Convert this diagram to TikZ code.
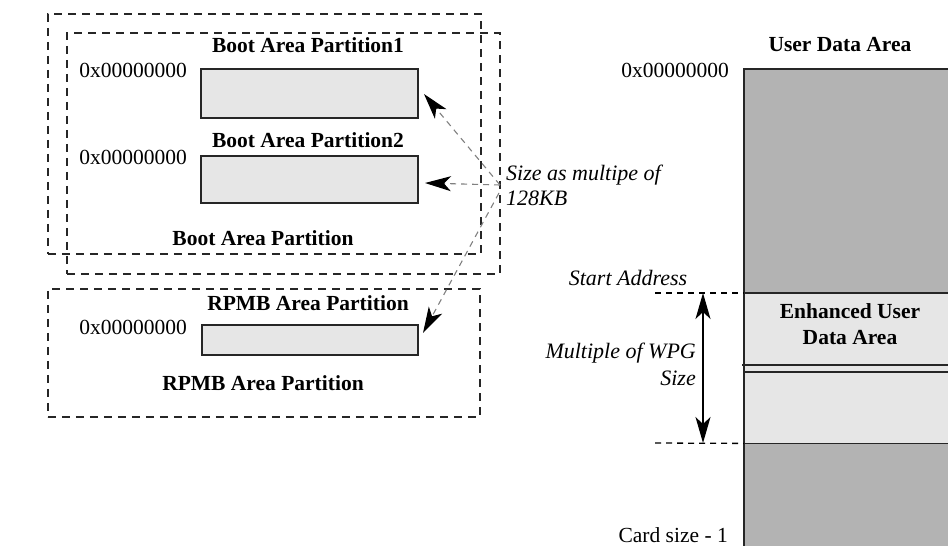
\documentclass[tikz,border=0pt]{standalone}
\usepackage{fontspec}
\setmainfont{Liberation Serif}
\usetikzlibrary{arrows.meta}
\definecolor{darkg}{HTML}{B3B3B3}
\definecolor{lightg}{HTML}{E6E6E6}
\begin{document}
\begin{tikzpicture}[x=1pt,y=-1pt,
  txt/.style={font=\fontsize{21.5}{24}\selectfont, inner sep=0pt},
  bt/.style={txt, font=\fontsize{21.5}{26}\selectfont\bfseries},
  it/.style={txt, font=\fontsize{22}{25}\selectfont\itshape},
  dbox/.style={draw=black!85, line width=1.6pt, dash pattern=on 8pt off 6pt, anchor=north west, inner sep=0pt},
  pbox/.style={draw=black!85, fill=lightg, line width=1.5pt, anchor=north west, inner sep=0pt},
  szarrow/.style={draw=black!50, line width=1.1pt, dash pattern=on 6pt off 5pt,
    -{Stealth[length=26pt, width=15pt, inset=7pt, black]}},
  wpgarrow/.style={draw=black, line width=1.4pt,
    {Stealth[length=26pt, width=15pt, inset=7pt]}-{Stealth[length=26pt, width=15pt, inset=7pt]}},
  guide/.style={draw=black, line width=1.3pt, dash pattern=on 6pt off 5pt}]
\useasboundingbox (0,0) rectangle (948,546);

% boot area partition boxes
\node[dbox, minimum width=433, minimum height=240] (bootA) at (47,13) {};
\node[dbox, minimum width=433, minimum height=241] (bootB) at (66,32) {};
\node[bt] (bap1) at (308,45) {Boot Area Partition1};
\node[txt] (a1) at (133,70) {0x00000000};
\node[pbox, minimum width=217, minimum height=49] (p1) at (200,68) {};
\node[bt] (bap2) at (308,140) {Boot Area Partition2};
\node[txt] (a2) at (133,157) {0x00000000};
\node[pbox, minimum width=217, minimum height=47] (p2) at (200,155) {};
\node[bt] (bap) at (263,238) {Boot Area Partition};

% RPMB
\node[dbox, minimum width=432, minimum height=128] (rpmb) at (47,288) {};
\node[bt] (rpmbt) at (308,303) {RPMB Area Partition};
\node[txt] (a3) at (133,327) {0x00000000};
\node[pbox, minimum width=216, minimum height=30] (p3) at (201,324) {};
\node[bt] (rpmbb) at (263,383) {RPMB Area Partition};

% size arrows
\node[it, anchor=west, align=left] (sz) at (506,185) {Size as multipe of\\128KB};
\coordinate (hubA) at (500,185);
\coordinate (hubB) at (499,193);
\coordinate (tip1) at (424,94);
\coordinate (tip2) at (425,183);
\coordinate (tip3) at (423,333);
\draw[szarrow] (hubA) -- (tip1);
\draw[szarrow] (hubA) -- (tip2);
\draw[szarrow] (hubB) -- (tip3);

% user data area
\node[bt] (uda) at (840,45) {User Data Area};
\node[txt, anchor=east] (a4) at (729,70) {0x00000000};
\node[anchor=north west, fill=darkg, inner sep=0pt, minimum width=204, minimum height=477] (ud) at (744,69) {};
\node[anchor=north west, fill=lightg, inner sep=0pt, minimum width=204, minimum height=150] (enh) at (744,293) {};
\draw[line width=1.5pt, black!85] (ud.south west) -- (ud.north west) -- (ud.north east);
\draw[line width=1.4pt, black!85] (enh.north west) -- (enh.north east);
\draw[line width=1.4pt, black!85] (742,365) -- (948,365);
\draw[line width=1.4pt, black!85] (744,372) -- (948,372);
\draw[line width=1.4pt, black!85] (enh.south west) -- (enh.south east);
\node[bt, align=center] (enht) at (850,324) {Enhanced User\\Data Area};

\coordinate (gs1) at (655,293);
\coordinate (gs2) at (655,443);
\draw[guide] (gs1) -- (enh.north west);
\draw[guide] (gs2) -- (enh.south west);
\node[it] (sa) at (628,278) {Start Address};
\coordinate (w1) at (703,293);
\coordinate (w2) at (703,443);
\draw[wpgarrow] (w1) -- (w2);
\node[it, anchor=east, align=right, font=\fontsize{22}{27}\selectfont\itshape] (wpg) at (696,364) {Multiple of WPG\\Size};
\node[txt, anchor=east] (cs) at (728,535) {Card size - 1};
\end{tikzpicture}
\end{document}
